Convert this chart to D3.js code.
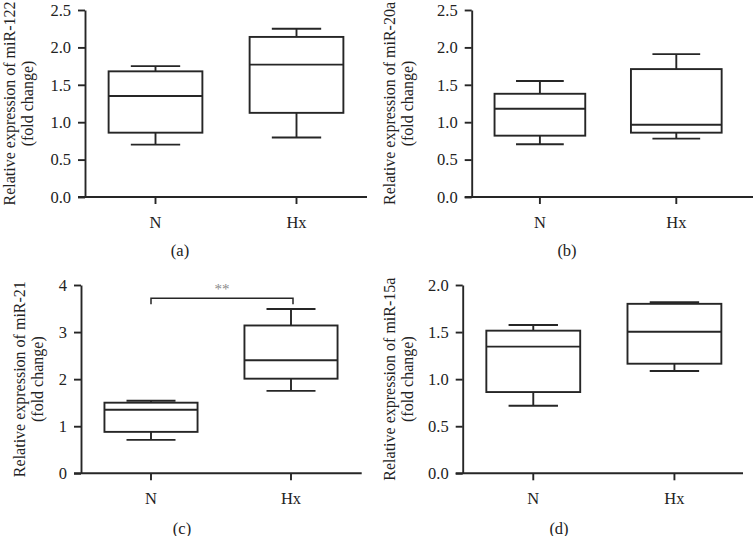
<!DOCTYPE html>
<html>
<head>
<meta charset="utf-8">
<script src="https://cdn.jsdelivr.net/npm/d3@7"></script>
<style>
  body { margin: 0; background: #fff; }
  svg { display: block; font-family: "Liberation Serif", "Times New Roman", serif; }
</style>
</head>
<body>
<svg id="chart" width="753" height="536"></svg>
<script>
// groups on the x axis
const groups = ["N", "Hx"];

// five-number summaries per group: [min, Q1, median, Q3, max]
const mir122 = [[0.70, 0.86, 1.35, 1.68, 1.75], [0.795, 1.125, 1.77, 2.14, 2.25]];
const mir20a = [[0.705, 0.82, 1.18, 1.38, 1.55], [0.78, 0.86, 0.965, 1.71, 1.91]];
const mir21  = [[0.71, 0.88, 1.35, 1.50, 1.54], [1.75, 2.01, 2.40, 3.14, 3.49]];
const mir15a = [[0.718, 0.863, 1.345, 1.515, 1.575], [1.086, 1.164, 1.504, 1.80, 1.816]];

const mirNames = ["miR-122", "miR-20a", "miR-21", "miR-15a"];
const panelTags = ["(a)", "(b)", "(c)", "(d)"];

// y tick values per panel
const ticksA = [0, 0.5, 1.0, 1.5, 2.0, 2.5];
const ticksB = [0, 0.5, 1.0, 1.5, 2.0, 2.5];
const ticksC = [0, 1, 2, 3, 4];
const ticksD = [0, 0.5, 1.0, 1.5, 2.0];

const yMax = [2.5, 2.5, 4, 2];
const tickFormats = [".1f", ".1f", "d", ".1f"];

// layout of each panel (pixels)
const layout = [
  {left: 85,    right: 367,   top: 10,  bottom: 197,   lab1: 15,  tagX: 180, tagY: 255.5, lineEnd: 367},
  {left: 471.7, right: 744.5, top: 10,  bottom: 197,   lab1: 395, tagX: 567, tagY: 255.5, lineEnd: 753},
  {left: 81,    right: 361,   top: 285, bottom: 473.3, lab1: 25,  tagX: 182, tagY: 533.5, lineEnd: 361.7},
  {left: 462.7, right: 745,   top: 285, bottom: 473.3, lab1: 395, tagX: 559, tagY: 533.5, lineEnd: 743}
];

const allData = [mir122, mir20a, mir21, mir15a];
const allTicks = [ticksA, ticksB, ticksC, ticksD];

const ink = "#262626";
const lw = 1.9;
const svg = d3.select("#chart");

allData.forEach(function(data, p) {
  const L = layout[p];
  const g = svg.append("g");

  const x = d3.scaleBand().domain(groups).range([L.left, L.right]).padding(0);
  const y = d3.scaleLinear().domain([0, yMax[p]]).range([L.bottom, L.top]);

  // y axis
  const yAxis = d3.axisLeft(y)
      .tickValues(allTicks[p])
      .tickFormat(d3.format(tickFormats[p]))
      .tickSize(7)
      .tickPadding(7)
      .tickSizeOuter(0);
  const ya = g.append("g")
      .attr("transform", "translate(" + L.left + ",0)")
      .call(yAxis)
      .attr("font-family", null)
      .attr("font-size", null);
  ya.select(".domain").attr("stroke", ink).attr("stroke-width", lw);
  ya.selectAll(".tick line").attr("stroke", ink).attr("stroke-width", lw);
  ya.selectAll(".tick text").attr("fill", "#222").style("font-size", "16.5px");

  // x axis
  const xAxis = d3.axisBottom(x).tickSize(7).tickPadding(12).tickSizeOuter(0);
  const xa = g.append("g")
      .attr("transform", "translate(0," + L.bottom + ")")
      .call(xAxis)
      .attr("font-family", null)
      .attr("font-size", null);
  xa.select(".domain").remove();
  xa.selectAll(".tick line").attr("stroke", ink).attr("stroke-width", lw);
  xa.selectAll(".tick text").attr("fill", "#222").style("font-size", "16.5px");
  g.append("line")
      .attr("x1", L.left - 7).attr("x2", L.lineEnd)
      .attr("y1", L.bottom).attr("y2", L.bottom)
      .attr("stroke", ink).attr("stroke-width", lw);

  // boxes
  const bw = x.bandwidth() * 0.665;
  const cw = x.bandwidth() * 0.35;
  const box = g.selectAll(".box")
      .data(data.map(function(d, i) { return {group: groups[i], v: d}; }))
      .enter().append("g")
      .attr("class", "box")
      .attr("transform", function(d) { return "translate(" + (x(d.group) + x.bandwidth() / 2) + ",0)"; })
      .attr("stroke", ink)
      .attr("stroke-width", lw)
      .attr("fill", "none");

  box.append("line")
      .attr("x1", 0).attr("x2", 0)
      .attr("y1", function(d) { return y(d.v[0]); })
      .attr("y2", function(d) { return y(d.v[1]); });
  box.append("line")
      .attr("x1", 0).attr("x2", 0)
      .attr("y1", function(d) { return y(d.v[3]); })
      .attr("y2", function(d) { return y(d.v[4]); });
  box.append("line")
      .attr("x1", -cw / 2).attr("x2", cw / 2)
      .attr("y1", function(d) { return y(d.v[0]); })
      .attr("y2", function(d) { return y(d.v[0]); });
  box.append("line")
      .attr("x1", -cw / 2).attr("x2", cw / 2)
      .attr("y1", function(d) { return y(d.v[4]); })
      .attr("y2", function(d) { return y(d.v[4]); });
  box.append("rect")
      .attr("x", -bw / 2)
      .attr("width", bw)
      .attr("y", function(d) { return y(d.v[3]); })
      .attr("height", function(d) { return y(d.v[1]) - y(d.v[3]); })
      .attr("fill", "#fff");
  box.append("line")
      .attr("x1", -bw / 2).attr("x2", bw / 2)
      .attr("y1", function(d) { return y(d.v[2]); })
      .attr("y2", function(d) { return y(d.v[2]); });

  // y label (two lines)
  const cy = (L.top + L.bottom) / 2;
  const lab = g.append("text")
      .attr("transform", "translate(" + L.lab1 + "," + cy + ") rotate(-90)")
      .attr("text-anchor", "middle")
      .attr("fill", "#222")
      .style("font-size", "16px");
  lab.append("tspan").attr("x", 0).attr("y", 0).text("Relative expression of " + mirNames[p]);
  lab.append("tspan").attr("x", 0).attr("y", 18).text("(fold change)");

  // panel tag
  g.append("text")
      .attr("x", L.tagX).attr("y", L.tagY)
      .attr("text-anchor", "middle")
      .attr("fill", "#222")
      .style("font-size", "16.5px")
      .text(panelTags[p]);

  // significance bracket for miR-21
  if (p === 2) {
    const xN = x("N") + x.bandwidth() / 2;
    const xH = x("Hx") + x.bandwidth() / 2 + 2;
    const yb = y(3.72);
    g.append("path")
        .attr("d", "M" + xN + "," + (yb + 6) + "V" + yb + "H" + xH + "V" + (yb + 6))
        .attr("fill", "none")
        .attr("stroke", ink)
        .attr("stroke-width", 1.5);
    g.append("text")
        .attr("x", (xN + xH) / 2).attr("y", yb - 4)
        .attr("text-anchor", "middle")
        .attr("fill", "#8a8a8a")
        .style("font-size", "15px")
        .text("**");
  }
});
</script>
</body>
</html>
